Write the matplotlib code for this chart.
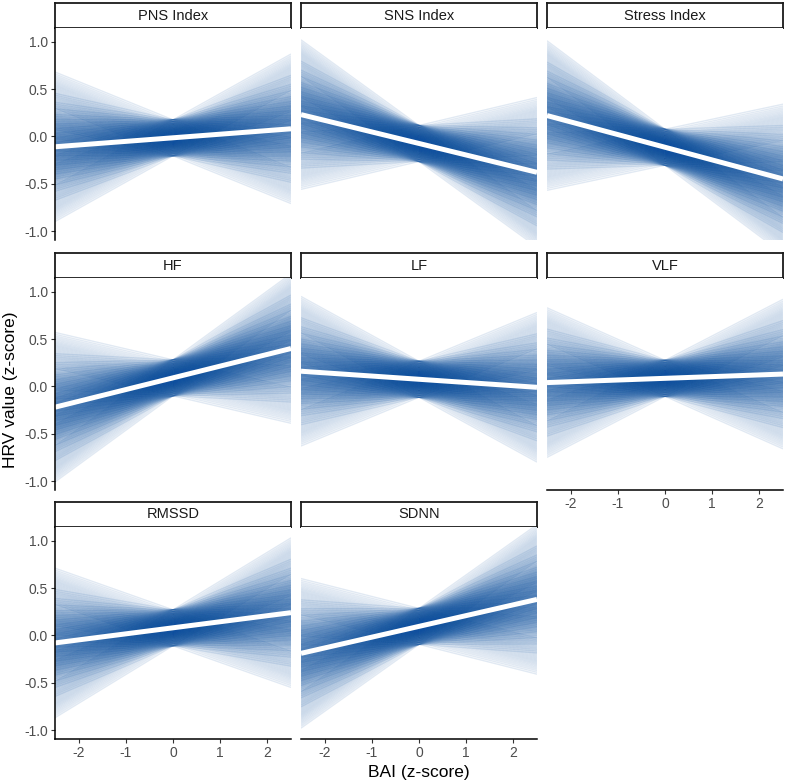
import numpy as np
import matplotlib
matplotlib.use("Agg")
from matplotlib import pyplot as plt

plt.rcParams['font.family'] = ['Liberation Sans', 'DejaVu Sans']
plt.rcParams['axes.unicode_minus'] = False

panels = ["PNS Index", "SNS Index", "Stress Index", "HF", "LF", "VLF", "RMSSD", "SDNN"]

# posterior mean line per panel: value at BAI = 0 and slope
mean_intercept = [-0.015, -0.075, -0.115, 0.09, 0.075, 0.085, 0.08, 0.095]
mean_slope = [0.038, -0.122, -0.134, 0.124, -0.034, 0.018, 0.064, 0.114]

draw_intercepts = {
    "PNS Index": [-0.205, -0.185, -0.167, -0.151, -0.136, -0.122, -0.109, -0.097, -0.086, -0.075, -0.065,
                  -0.055, -0.045, -0.035, -0.025, -0.015, -0.005, 0.005, 0.015, 0.025, 0.035, 0.045,
                  0.056, 0.067, 0.079, 0.092, 0.106, 0.121, 0.137, 0.155, 0.175],
    "SNS Index": [-0.265, -0.245, -0.227, -0.211, -0.196, -0.182, -0.169, -0.157, -0.146, -0.135, -0.125,
                  -0.115, -0.105, -0.095, -0.085, -0.075, -0.065, -0.055, -0.045, -0.035, -0.025, -0.015,
                  -0.004, 0.007, 0.019, 0.032, 0.046, 0.061, 0.077, 0.095, 0.115],
    "Stress Index": [-0.305, -0.285, -0.267, -0.251, -0.236, -0.222, -0.209, -0.197, -0.186, -0.175, -0.165,
                     -0.155, -0.145, -0.135, -0.125, -0.115, -0.105, -0.095, -0.085, -0.075, -0.065, -0.055,
                     -0.044, -0.033, -0.021, -0.008, 0.006, 0.021, 0.037, 0.055, 0.075],
    "HF": [-0.1, -0.08, -0.062, -0.046, -0.031, -0.017, -0.004, 0.008, 0.019, 0.03, 0.04,
           0.05, 0.06, 0.07, 0.08, 0.09, 0.1, 0.11, 0.12, 0.13, 0.14, 0.15,
           0.161, 0.172, 0.184, 0.197, 0.211, 0.226, 0.242, 0.26, 0.28],
    "LF": [-0.115, -0.095, -0.077, -0.061, -0.046, -0.032, -0.019, -0.007, 0.004, 0.015, 0.025,
           0.035, 0.045, 0.055, 0.065, 0.075, 0.085, 0.095, 0.105, 0.115, 0.125, 0.135,
           0.146, 0.157, 0.169, 0.182, 0.196, 0.211, 0.227, 0.245, 0.265],
    "VLF": [-0.105, -0.085, -0.067, -0.051, -0.036, -0.022, -0.009, 0.003, 0.014, 0.025, 0.035,
            0.045, 0.055, 0.065, 0.075, 0.085, 0.095, 0.105, 0.115, 0.125, 0.135, 0.145,
            0.156, 0.167, 0.179, 0.192, 0.206, 0.221, 0.237, 0.255, 0.275],
    "RMSSD": [-0.11, -0.09, -0.072, -0.056, -0.041, -0.027, -0.014, -0.002, 0.009, 0.02, 0.03,
              0.04, 0.05, 0.06, 0.07, 0.08, 0.09, 0.1, 0.11, 0.12, 0.13, 0.14,
              0.151, 0.162, 0.174, 0.187, 0.201, 0.216, 0.232, 0.25, 0.27],
    "SDNN": [-0.095, -0.075, -0.057, -0.041, -0.026, -0.012, 0.001, 0.013, 0.024, 0.035, 0.045,
             0.055, 0.065, 0.075, 0.085, 0.095, 0.105, 0.115, 0.125, 0.135, 0.145, 0.155,
             0.166, 0.177, 0.189, 0.202, 0.216, 0.231, 0.247, 0.265, 0.285],
}
draw_slopes = {
    "PNS Index": [-0.202, -0.112, -0.074, -0.046, -0.022, -0.001, 0.018, 0.038, 0.058, 0.077, 0.098, 0.122, 0.15, 0.188, 0.278],
    "SNS Index": [-0.362, -0.272, -0.234, -0.206, -0.182, -0.161, -0.142, -0.122, -0.102, -0.083, -0.062, -0.038, -0.01, 0.028, 0.118],
    "Stress Index": [-0.374, -0.284, -0.246, -0.218, -0.194, -0.173, -0.154, -0.134, -0.114, -0.095, -0.074, -0.05, -0.022, 0.016, 0.106],
    "HF": [-0.116, -0.026, 0.012, 0.04, 0.064, 0.085, 0.104, 0.124, 0.144, 0.163, 0.184, 0.208, 0.236, 0.274, 0.364],
    "LF": [-0.274, -0.184, -0.146, -0.118, -0.094, -0.073, -0.054, -0.034, -0.014, 0.005, 0.026, 0.05, 0.078, 0.116, 0.206],
    "VLF": [-0.222, -0.132, -0.094, -0.066, -0.042, -0.021, -0.002, 0.018, 0.038, 0.057, 0.078, 0.102, 0.13, 0.168, 0.258],
    "RMSSD": [-0.176, -0.086, -0.048, -0.02, 0.004, 0.025, 0.044, 0.064, 0.084, 0.103, 0.124, 0.148, 0.176, 0.214, 0.304],
    "SDNN": [-0.126, -0.036, 0.002, 0.03, 0.054, 0.075, 0.094, 0.114, 0.134, 0.153, 0.174, 0.198, 0.226, 0.264, 0.354],
}

x_ticks = [-2, -1, 0, 1, 2]
y_ticks = [-1.0, -0.5, 0.0, 0.5, 1.0]
x_range = np.array([-2.5, 2.5])

W, H = 788, 783
fig = plt.figure(figsize=(W / 100, H / 100), dpi=100)

col_x = [55, 301, 547]
strip_top = [3, 253, 502]
pw, ph, sh = 236, 212, 25
line_col = "#0b4f9e"
tick_col = "#4d4d4d"

for i, name in enumerate(panels):
    r, c = divmod(i, 3)
    x0 = col_x[c]
    y_strip = strip_top[r]
    # strip
    sax = fig.add_axes([x0 / W, 1 - (y_strip + sh) / H, pw / W, sh / H])
    sax.set_xticks([])
    sax.set_yticks([])
    for sp in sax.spines.values():
        sp.set_linewidth(1.3)
        sp.set_color("#1a1a1a")
    sax.text(0.5, 0.5, name, ha="center", va="center", fontsize=10.5, color="#1a1a1a",
             transform=sax.transAxes)

    ax = fig.add_axes([x0 / W, 1 - (y_strip + sh + ph) / H, pw / W, ph / H])
    for a in draw_intercepts[name]:
        for b in draw_slopes[name]:
            ax.plot(x_range, a + b * x_range, color=line_col, alpha=0.12, lw=1.0,
                    solid_capstyle="butt")
    ax.plot(x_range, mean_intercept[i] + mean_slope[i] * x_range, color="white", lw=3.6,
            solid_capstyle="butt")
    ax.set_xlim(-2.5, 2.5)
    ax.set_ylim(-1.095, 1.145)
    ax.set_xticks(x_ticks)
    ax.set_yticks(y_ticks)
    ax.set_yticklabels(["%.1f" % v for v in y_ticks])
    for sp in ["top", "right"]:
        ax.spines[sp].set_visible(False)
    left = c == 0
    bottom = (r == 2) or (name == "VLF")
    ax.spines["left"].set_visible(left)
    ax.spines["bottom"].set_visible(bottom)
    ax.spines["left"].set_linewidth(1.1)
    ax.spines["bottom"].set_linewidth(1.1)
    ax.tick_params(axis="y", left=left, labelleft=left, length=3, width=0.8,
                   colors="#333333", labelcolor=tick_col, labelsize=10, pad=2)
    ax.tick_params(axis="x", bottom=bottom, labelbottom=bottom, length=3, width=0.8,
                   colors="#333333", labelcolor=tick_col, labelsize=10, pad=2)

fig.text(11 / W, 1 - 390 / H, "HRV value (z-score)", rotation=90, ha="center", va="center",
         fontsize=12.5)
fig.text(419 / W, 1 - 772 / H, "BAI (z-score)", ha="center", va="center", fontsize=12.5)

fig.savefig("out.png", dpi=100)
